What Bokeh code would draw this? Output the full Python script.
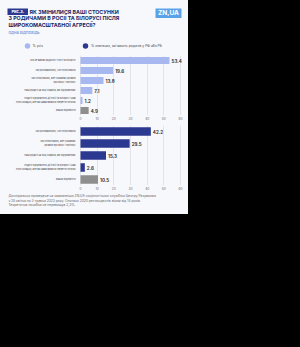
from bokeh.plotting import figure
from bokeh.models import Range1d, FactorRange, FixedTicker, ColumnDataSource
from bokeh.layouts import column
from bokeh.core.properties import value
from bokeh.embed import file_html
from bokeh.resources import INLINE

# ---------------- data ----------------
fig_label = "Рис.3."
title_lines = ["ЯК ЗМІНИЛИСЯ ВАШІ СТОСУНКИ",
               "З РОДИЧАМИ В РОСІЇ ТА БІЛОРУСІ ПІСЛЯ",
               "ШИРОКОМАСШТАБНОЇ АГРЕСІЇ?"]
subtitle = "ОДНА ВІДПОВІДЬ"
logo = "ZN,UA"
legend_labels = ["% усіх", "% опитаних, які мають родичів у РФ або РБ"]

top_categories = [
    "Ми не маємо родичів у Росії та Білорусі",
    "Ми розсварилися, і не спілкуємося",
    "Ми спілкуємося, але уникаємо розмов\nпро війну і політику",
    "Наші родичі на боці України, ми підтримуємо",
    "Родичі підтримують дії Росії та Білорусі і нам\nбуло складно, але ми намагаємося зберегти зв'язок",
    "Важко відповісти",
]
top_values = [53.4, 19.6, 13.8, 7.1, 1.2, 4.9]

bottom_categories = [
    "Ми розсварилися, і не спілкуємося",
    "Ми спілкуємося, але уникаємо\nрозмов про війну і політику",
    "Наші родичі на боці України, ми підтримуємо",
    "Родичі підтримують дії Росії та Білорусі і нам\nбуло складно, але ми намагаємося зберегти зв'язок",
    "Важко відповісти",
]
bottom_values = [42.2, 29.5, 15.3, 2.6, 10.5]

x_ticks = [0, 10, 20, 30, 40, 50, 60]

footnote = [
    "Дослідження проведене на замовлення ZN.UA соціологічною службою Центру Разумкова",
    "з 28 квітня по 3 травня 2023 року. Опитано 2020 респондентів віком від 18 років.",
    "Теоретична похибка не перевищує 2,3%.",
]

# ---------------- style ----------------
BG = "#f7f8fc"
LIGHT = "#a7b7ef"
NAVY = "#2b3990"
GRAY = "#8e8e8e"
TITLE_C = "#1c2760"
W = 188


def blank(h):
    p = figure(width=W, height=h, x_range=Range1d(0, W), y_range=Range1d(h, 0),
               output_backend="svg", toolbar_location=None,
               min_border=0, background_fill_color=BG, border_fill_color=BG)
    p.axis.visible = False
    p.grid.visible = False
    p.outline_line_color = None
    return p


# ---------------- header ----------------
hdr = blank(52)
hdr.quad(left=[7], right=[27.5], top=[8], bottom=[14.5], fill_color=NAVY, line_color=None)
hdr.text(x=[17.25], y=[11.4], text=[fig_label], text_color="white", text_font=value("Inter"),
         text_font_style="bold", text_font_size="4px", text_align="center", text_baseline="middle")
hdr.text(x=[29, 8, 8], y=[11.4, 17.8, 24.2], text=title_lines, text_color=TITLE_C,
         text_font=value("Inter"), text_font_style="bold", text_font_size="5.3px",
         text_baseline="middle")
hdr.text(x=[8], y=[32], text=[subtitle], text_color="#7f9bd8", text_font=value("Inter"),
         text_font_style="bold", text_font_size="3.4px", text_baseline="middle")
hdr.quad(left=[155], right=[181], top=[8], bottom=[17.5], fill_color="#5aa2e8", line_color=None)
hdr.text(x=[168], y=[12.9], text=[logo], text_color="white", text_font=value("Inter"),
         text_font_style="bold", text_font_size="6.5px", text_align="center", text_baseline="middle")
hdr.scatter(x=[27, 85], y=[45.5, 45.5], size=5.5, color=[LIGHT, NAVY], line_color=None)
hdr.text(x=[32, 90.5], y=[45.5, 45.5], text=legend_labels, text_color="#444444",
         text_font=value("Inter"), text_font_size="3.3px", text_baseline="middle")


# ---------------- bar charts ----------------
def bar_chart(cats, vals, colors):
    # frame spans the full width so that all stacked plots align; 0 sits at 80 px, 60 at 180 px
    p = figure(width=W, frame_width=W, frame_height=60,
               y_range=FactorRange(*reversed(cats)), x_range=Range1d(-48, 64.8),
               output_backend="svg", toolbar_location=None,
               min_border_left=0, min_border_right=0, min_border_top=3, min_border_bottom=7,
               background_fill_color=BG, border_fill_color=BG)
    p.outline_line_color = None
    src = ColumnDataSource(dict(cat=cats, val=vals, color=colors, zero=[0] * len(vals),
                                lab=[f"{v:.1f}" for v in vals]))
    p.hbar(y="cat", right="val", left=0, height=0.7, fill_color="color",
           line_color=None, source=src)
    p.text(x="val", y="cat", text="lab", source=src, x_offset=2,
           text_font=value("Inter"), text_font_style="bold", text_font_size="4.5px",
           text_color="#333333", text_baseline="middle")
    p.text(x="zero", y="cat", text="cat", source=src, x_offset=-5,
           text_font=value("Inter"), text_font_size="2.3px", text_color="#3a3a3a",
           text_align="right", text_baseline="middle", text_line_height=1.25)
    p.yaxis.visible = False
    p.xaxis.ticker = FixedTicker(ticks=x_ticks)
    p.xgrid.ticker = FixedTicker(ticks=x_ticks)
    p.xgrid.grid_line_color = "#e3e3e8"
    p.ygrid.grid_line_color = None
    p.xaxis.axis_line_color = None
    p.xaxis.major_tick_line_color = None
    p.xaxis.minor_tick_line_color = None
    p.xaxis.major_tick_out = 0
    p.xaxis.major_tick_in = 0
    p.xaxis.minor_tick_out = 0
    p.xaxis.minor_tick_in = 0
    p.xaxis.major_label_text_font_size = "3.2px"
    p.xaxis.major_label_text_color = "#666666"
    p.xaxis.major_label_standoff = 1
    p.xaxis.major_label_text_font = "Inter"
    return p


top = bar_chart(top_categories, top_values, [LIGHT] * 5 + [GRAY])
bottom = bar_chart(bottom_categories, bottom_values, [NAVY] * 4 + [GRAY])

# ---------------- footnote ----------------
foot = blank(22)
foot.text(x=[8, 8, 8], y=[3.5, 8.2, 12.9], text=footnote, text_color="#666666",
          text_font=value("Inter"), text_font_size="3.3px", text_baseline="middle")

layout = column(hdr, top, bottom, foot, spacing=0, styles={"background-color": BG})

html = file_html(layout, INLINE)
html = html.replace("<head>", "<head><style>html,body{background:#000;margin:0;padding:0;}</style>", 1)
open("out.html", "w").write(html)
